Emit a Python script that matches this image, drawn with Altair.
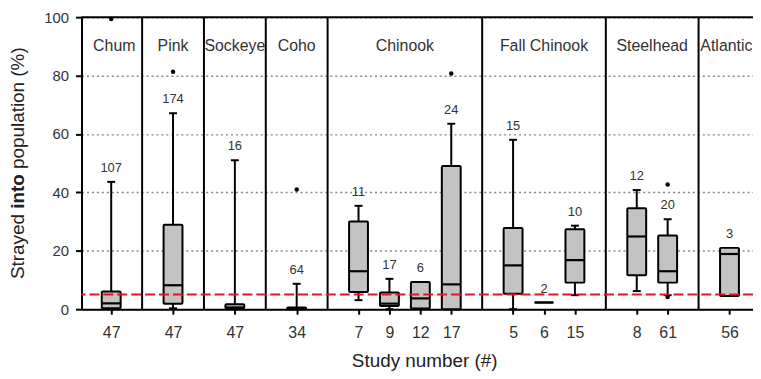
import altair as alt
import pandas as pd

# ---- data ----
study_species = ["Chum", "Pink", "Sockeye", "Coho", "Chinook", "Chinook", "Chinook", "Chinook",
                 "Fall Chinook", "Fall Chinook", "Fall Chinook", "Steelhead", "Steelhead", "Atlantic"]
study_number = [47, 47, 47, 34, 7, 9, 12, 17, 5, 6, 15, 8, 61, 56]
n_label = [107, 174, 16, 64, 11, 17, 6, 24, 15, 2, 10, 12, 20, 3]
w_low = [0.0, 0.3, 0.0, 0.0, 3.1, 0.0, 0.2, 0.0, 0.0, 2.3, 4.8, 6.2, 4.8, 4.5]
q1 = [0.3, 1.9, 0.3, 0.0, 5.9, 1.1, 0.2, 0.0, 5.3, 2.3, 9.1, 11.6, 9.1, 4.5]
median = [2.0, 8.2, 0.6, 0.3, 13.0, 1.9, 3.7, 8.5, 15.0, 2.3, 16.8, 24.9, 13.0, 18.9]
q3 = [6.1, 28.9, 1.7, 0.6, 30.0, 5.7, 9.3, 49.0, 27.8, 2.3, 27.4, 34.6, 25.2, 21.0]
w_high = [43.6, 67.1, 51.0, 8.7, 35.4, 10.4, 9.3, 63.5, 58.0, 2.3, 28.6, 40.8, 30.8, 21.0]
outlier_item = [0, 1, 3, 7, 12, 12]
outlier_value = [99.4, 81.3, 41.0, 80.7, 42.7, 4.2]
threshold = [5]
y_ticks = [0, 20, 40, 60, 80, 100]
species_label_level = 90

# ---- slot order: items of a species side by side, one empty slot between species ----
slots = []
s = -1
for i, sp in enumerate(study_species):
    s += 1 if (i > 0 and sp == study_species[i - 1]) else 2
    slots.append(s)
X_MIN, X_MAX = 0.2, 21.6

groups = []
for sp in dict.fromkeys(study_species):
    idx = [k for k, v in enumerate(study_species) if v == sp]
    groups.append((sp, slots[idx[0]], slots[idx[-1]]))
separators = [g[2] + 1 for g in groups[:-1]]
centers = []
for gi, (sp, a, b) in enumerate(groups):
    left = X_MIN if gi == 0 else a - 1
    right = (b + 1) if gi < len(groups) - 1 else (b + 0.8)
    centers.append((left + right) / 2)

df = pd.DataFrame({"slot": slots, "species": study_species, "study": study_number, "n": n_label,
                   "lo": w_low, "q1": q1, "med": median, "q3": q3, "hi": w_high})
df_hi = df[df.hi > df.q3]
df_lo = df[df.lo < df.q1]
df_out = pd.DataFrame({"slot": [slots[i] for i in outlier_item], "v": outlier_value})
df_sep = pd.DataFrame({"slot": separators, "a": [0] * len(separators), "b": [100] * len(separators)})
df_sp = pd.DataFrame({"c": centers, "name": [g[0] for g in groups], "lev": [species_label_level] * len(groups)})
df_thr = pd.DataFrame({"t": threshold})
df_top = pd.DataFrame({"t": [100]})

lab = [""] * 23
for sl, st in zip(slots, study_number):
    lab[sl] = str(st)
label_expr = "[" + ",".join("'%s'" % v for v in lab) + "][datum.value]"

FONT = "Liberation Sans"
xscale = alt.Scale(domain=[X_MIN, X_MAX], nice=False, zero=False)
yscale = alt.Scale(domain=[0, 100], nice=False, zero=False)
xaxis = alt.Axis(values=slots, labelExpr=label_expr, grid=False, tickSize=5, tickWidth=2,
                 tickColor="black", domainColor="black", domainWidth=2, labelFontSize=16,
                 labelColor="#333", labelPadding=10, labelFont=FONT, title="Study number (#)",
                 titleFontSize=19, titleFontWeight="normal", titleColor="#222", titleFont=FONT,
                 titlePadding=12, titleX=345)
yaxis = alt.Axis(values=y_ticks, grid=True, gridDash=[2, 3], gridColor="#888", gridWidth=1.5,
                 tickSize=6, tickWidth=2, tickColor="black", domainColor="black", domainWidth=2,
                 labelFontSize=15, labelColor="#333", labelPadding=7, labelFont=FONT, title=None)


def X(f):
    return alt.X(f, type="quantitative", scale=xscale, axis=xaxis)


def Y(f):
    return alt.Y(f, type="quantitative", scale=yscale, axis=yaxis)


LW = 2
seps = alt.Chart(df_sep).mark_rule(color="black", strokeWidth=LW).encode(
    x=X("slot"), y=Y("a"), y2="b")
top = alt.Chart(df_top).mark_rule(color="black", strokeWidth=LW).encode(y=Y("t"))
wh_hi = alt.Chart(df_hi).mark_rule(color="black", strokeWidth=LW).encode(x=X("slot"), y=Y("q3"), y2="hi")
wh_lo = alt.Chart(df_lo).mark_rule(color="black", strokeWidth=LW).encode(x=X("slot"), y=Y("lo"), y2="q1")
cap_hi = alt.Chart(df_hi).mark_tick(orient="horizontal", size=8, thickness=2, color="black", opacity=1).encode(
    x=X("slot"), y=Y("hi"))
cap_lo = alt.Chart(df_lo).mark_tick(orient="horizontal", size=8, thickness=2, color="black", opacity=1).encode(
    x=X("slot"), y=Y("lo"))
boxes = alt.Chart(df).mark_bar(size=19, fill="#c3c3c3", stroke="black", strokeWidth=2,
                               cornerRadius=1, opacity=1).encode(
    x=X("slot"), y=Y("q1"), y2="q3")
meds = alt.Chart(df).mark_tick(orient="horizontal", size=19, thickness=2.2, color="black", opacity=1).encode(
    x=X("slot"), y=Y("med"))
outs = alt.Chart(df_out).mark_point(filled=True, color="black", size=20, opacity=1).encode(
    x=X("slot"), y=Y("v"))
thr = alt.Chart(df_thr).mark_rule(color="#e8141a", strokeWidth=2, strokeDash=[10, 4]).encode(y=Y("t"))
counts = alt.Chart(df).mark_text(fontSize=13, color="#333", font=FONT, baseline="middle", dy=-14).encode(
    x=X("slot"), y=Y("hi"), text="n:N")
names = alt.Chart(df_sp).mark_text(fontSize=16, color="#333", font=FONT, baseline="middle").encode(
    x=X("c"), y=Y("lev"), text="name:N")

ytitle_parts = [("Strayed", "normal", 263.7), ("into", "bold", 192.9), ("population (%)", "normal", 152.8)]
ytitles = []
for txt, wt, yp in ytitle_parts:
    ytitles.append(
        alt.Chart(pd.DataFrame({"t": [txt]})).mark_text(
            angle=270, align="left", baseline="middle", fontSize=19, fontWeight=wt, color="#222", font=FONT
        ).encode(x=alt.value(-63.5), y=alt.value(yp), text="t:N")
    )

chart = alt.layer(names, seps, wh_hi, wh_lo, cap_hi, cap_lo, boxes, meds, thr, outs, counts, top, *ytitles).properties(
    width=676, height=294,
    autosize=alt.AutoSizeParams(type="none"),
    padding={"left": 74, "top": 8, "right": 0, "bottom": 62},
).configure_view(stroke=None).configure(font=FONT)

chart.save("out.html", embed_options={"renderer": "svg", "actions": False})
